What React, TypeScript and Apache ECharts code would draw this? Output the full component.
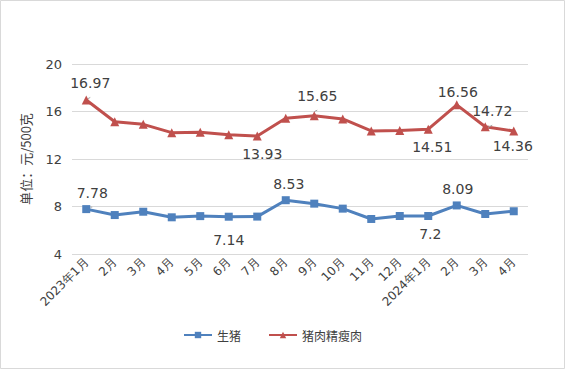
import React, { useEffect, useRef } from "react";
import * as echarts from "echarts";

const categories = ["2023年1月", "2月", "3月", "4月", "5月", "6月", "7月", "8月", "9月", "10月", "11月", "12月", "2024年1月", "2月", "3月", "4月"];
const pigValues = [7.78, 7.28, 7.56, 7.09, 7.19, 7.14, 7.15, 8.53, 8.24, 7.82, 6.95, 7.2, 7.2, 8.09, 7.37, 7.6];
const porkValues = [16.97, 15.14, 14.92, 14.22, 14.25, 14.05, 13.93, 15.43, 15.65, 15.37, 14.36, 14.41, 14.51, 16.56, 14.72, 14.36];
// label placement per index: [position, dx, dy]
const pigLabels: Record<number, [string, number, number]> = {
  0: ["top", 6, 0],
  5: ["bottom", 0, 7],
  7: ["top", 3, 0],
  12: ["bottom", 2, 2],
  13: ["top", 1, 0],
};
const porkLabels: Record<number, [string, number, number]> = {
  0: ["top", 4, 0],
  6: ["bottom", 5, 1],
  8: ["top", 3, -3],
  12: ["bottom", 4, 1],
  13: ["top", 1, 4],
  14: ["top", 7, 1],
  15: ["bottom", -1, -1],
};

const font = "'DejaVu Sans', Verdana, sans-serif";
const cjk = "'Noto Sans CJK SC', sans-serif";

function buildData(values: number[], labels: Record<number, [string, number, number]>) {
  return values.map((v, i) => {
    const spec = labels[i];
    if (!spec) return v;
    return {
      value: v,
      label: {
        show: true,
        position: spec[0],
        offset: [spec[1], spec[2]],
        fontSize: 14,
        color: "#404040",
        fontFamily: font,
      },
      labelLine: { show: spec[0] === "top", lineStyle: { color: "#a6a6a6", width: 1 } },
    };
  });
}

export default function App() {
  const ref = useRef<HTMLDivElement>(null);
  useEffect(() => {
    document.body.style.margin = "0";
    const chart = echarts.init(ref.current!, null, { renderer: "svg" });
    chart.setOption({
      animation: false,
      backgroundColor: "#ffffff",
      graphic: [
        {
          type: "rect",
          shape: { x: 0.5, y: 0.5, width: 564, height: 368 },
          style: { fill: "none", stroke: "#d9d9d9", lineWidth: 1 },
          silent: true,
        },
      ],
      grid: { left: 72, right: 38, top: 64, bottom: 116 },
      legend: {
        bottom: 24,
        left: 178,
        itemWidth: 28,
        itemHeight: 8,
        itemGap: 27,
        textStyle: { fontFamily: cjk, fontSize: 12, color: "#404040" },
        data: ["生猪", "猪肉精瘦肉"],
      },
      xAxis: {
        type: "category",
        data: categories,
        boundaryGap: true,
        axisLine: { show: false },
        axisTick: { show: false },
        axisLabel: {
          rotate: 45,
          interval: 0,
          fontSize: 12,
          color: "#404040",
          fontFamily: font,
          margin: 6,
        },
      },
      yAxis: {
        type: "value",
        min: 4,
        max: 20,
        interval: 4,
        name: "单位：元/500克",
        nameLocation: "middle",
        nameGap: 40,
        nameTextStyle: { fontFamily: cjk, fontSize: 13, color: "#404040" },
        axisLabel: { fontSize: 13, color: "#404040", fontFamily: font, margin: 10 },
        splitLine: { lineStyle: { color: "#d9d9d9" } },
        axisLine: { show: false },
        axisTick: { show: false },
      },
      series: [
        {
          name: "生猪",
          type: "line",
          data: buildData(pigValues, pigLabels),
          symbol: "rect",
          symbolSize: 8,
          itemStyle: { color: "#4f81bd" },
          lineStyle: { width: 3, color: "#4f81bd" },
          z: 3,
        },
        {
          name: "猪肉精瘦肉",
          type: "line",
          data: buildData(porkValues, porkLabels),
          symbol: "triangle",
          symbolSize: 9,
          itemStyle: { color: "#c0504d" },
          lineStyle: { width: 3, color: "#c0504d" },
          z: 3,
        },
      ],
    });
    return () => chart.dispose();
  }, []);
  return <div ref={ref} style={{ width: 566, height: 370 }} />;
}
